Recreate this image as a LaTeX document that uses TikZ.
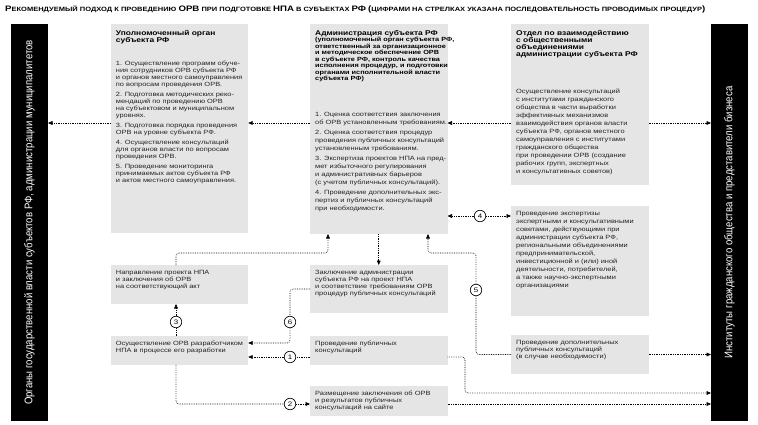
\documentclass[tikz,border=0pt]{standalone}
\usepackage{graphicx}
\usepackage{fontspec}
\setmainfont[FakeStretch=1.22]{Liberation Sans}
\newfontfamily\barfont{Liberation Sans}
\usetikzlibrary{arrows.meta,calc}
\definecolor{boxgray}{HTML}{E5E5E5}
\definecolor{bodytxt}{HTML}{222222}
\newcommand\BL[1]{{\fontsize{7.9}{9}\selectfont #1}}
\begin{document}
\begin{tikzpicture}[x=1pt,y=-1pt,
  box/.style={fill=boxgray,draw=none,anchor=north west,inner sep=0pt,outer sep=0pt,minimum width=137.5pt},
  barbox/.style={fill=black,draw=none,anchor=north west,inner sep=0pt,outer sep=0pt,minimum width=37pt,minimum height=397pt},
  bartext/.style={rotate=90,text=white,inner sep=0pt,font=\barfont\fontsize{9.6}{10}\selectfont},
  ttl/.style={anchor=north west,inner sep=0pt,align=left,font=\fontsize{6.9}{7}\selectfont\bfseries,text=black},
  sub/.style={anchor=north west,inner sep=0pt,align=left,font=\fontsize{6}{6.5}\selectfont\bfseries,text=black},
  bdy/.style={anchor=north west,inner sep=0pt,align=left,font=\fontsize{6.1}{7}\selectfont,text=bodytxt},
  bdyw/.style={bdy,font=\fontsize{6.1}{8}\selectfont},
  conn/.style={draw=black,line width=0.65pt,dash pattern=on 0.65pt off 1.1pt,rounded corners=3pt},
  arr/.style={conn,-{Triangle[length=4.5pt,width=3.8pt]}},
  num/.style={circle,draw=black,line width=0.65pt,fill=white,minimum size=11.5pt,inner sep=0pt,font=\fontsize{6.5}{7}\selectfont}
]
\fill[white] (0,0) rectangle (758,425);
\useasboundingbox (0,0) rectangle (758,425);

% title
\node[anchor=west,inner sep=0pt,font=\fontsize{6.15}{8}\selectfont\bfseries] (title) at (5,9)
 {\BL{Р}ЕКОМЕНДУЕМЫЙ ПОДХОД К ПРОВЕДЕНИЮ \BL{ОРВ} ПРИ ПОДГОТОВКЕ \BL{НПА} В СУБЪЕКТАХ \BL{РФ} \BL{(}ЦИФРАМИ НА СТРЕЛКАХ УКАЗАНА ПОСЛЕДОВАТЕЛЬНОСТЬ ПРОВОДИМЫХ ПРОЦЕДУР\BL{)}};

% side bars
\node[barbox] (lbar) at (11,24) {};
\node[barbox] (rbar) at (711,24) {};
\node[bartext] (lbar-t) at (lbar.center) {\scalebox{1}[1.15]{Органы государственной власти субъектов РФ, администрации муниципалитетов}};
\node[bartext] (rbar-t) at (rbar.center) {\scalebox{1}[1.15]{Институты гражданского общества и представители бизнеса}};

% boxes
\node[box,minimum height=209pt] (uo) at (110.7,24) {};
\node[box,minimum height=210pt] (adm) at (310,24) {};
\node[box,minimum height=161pt] (otd) at (511,24) {};
\node[box,minimum height=110pt] (exp) at (511,206) {};
\node[box,minimum height=39pt] (dop) at (511,335) {};
\node[box,minimum height=39pt] (napr) at (110.7,265) {};
\node[box,minimum height=29pt] (osush) at (110.7,336) {};
\node[box,minimum height=48pt] (zakl) at (310,265) {};
\node[box,minimum height=29pt] (provpub) at (310,336) {};
\node[box,minimum height=30pt] (razm) at (310,386) {};

% texts
\node[ttl] (uo-ttl) at ($(uo.north west)+(5,6)$) {Уполномоченный орган\\субъекта РФ};
\node[bdy] (uo-bdy) at ($(uo.north west)+(5,37)$) {1. Осуществление программ обуче-\\ния сотрудников ОРВ субъекта РФ\\и органов местного самоуправления\\по вопросам проведения ОРВ.\\[3pt]
2. Подготовка методических реко-\\мендаций по проведению ОРВ\\на субъектовом и муниципальном\\уровнях.\\[3pt]
3. Подготовка порядка проведения\\ОРВ на уровне субъекта РФ.\\[3pt]
4. Осуществление консультаций\\для органов власти по вопросам\\проведения ОРВ.\\[3pt]
5. Проведение мониторинга\\принимаемых актов субъекта РФ\\и актов местного самоуправления.};

\node[ttl] (adm-ttl) at ($(adm.north west)+(5,6)$) {Администрация субъекта РФ};
\node[sub] (adm-sub) at ($(adm.north west)+(5,13.3)$) {(уполномоченный орган субъекта РФ,\\ответственный за организационное\\и методическое обеспечение ОРВ\\в субъекте РФ, контроль качества\\исполнения процедур, и подготовки\\органами исполнительной власти\\субъекта РФ)};
\node[bdyw] (adm-bdy) at ($(adm.north west)+(5,88)$) {1. Оценка соответствия заключения\\об ОРВ установленным требованиям.\\[2pt]
2. Оценка соответствия процедур\\проведения публичных консультаций\\установленным требованиям.\\[2pt]
3. Экспертиза проектов НПА на пред-\\мет избыточного регулирования\\и административных барьеров\\(с учетом публичных консультаций).\\[2pt]
4. Проведение дополнительных экс-\\пертиз и публичных консультаций\\при необходимости.};

\node[ttl] (otd-ttl) at ($(otd.north west)+(5,6)$) {Отдел по взаимодействию\\с общественными\\объединениями\\администрации субъекта РФ};
\node[bdyw] (otd-bdy) at ($(otd.north west)+(5,65)$) {Осуществление консультаций\\с институтами гражданского\\общества в части выработки\\эффективных механизмов\\взаимодействия органов власти\\субъекта РФ, органов местного\\самоуправления с институтами\\гражданского общества\\при проведении ОРВ (создание\\рабочих групп, экспертных\\и консультативных советов)};

\node[bdyw] (exp-t) at ($(exp.north west)+(5,5)$) {Проведение экспертизы\\экспертными и консультативными\\советами, действующими при\\администрации субъекта РФ,\\региональными объединениями\\предпринимательской,\\инвестиционной и (или) иной\\деятельности, потребителей,\\а также научно-экспертными\\организациями};
\node[bdy] (dop-t) at ($(dop.north west)+(5,5)$) {Проведение дополнительных\\публичных консультаций\\(в случае необходимости)};
\node[bdy] (napr-t) at ($(napr.north west)+(5,5)$) {Направление проекта НПА\\и заключения об ОРВ\\на соответствующий акт};
\node[bdy] (osush-t) at ($(osush.north west)+(5,5)$) {Осуществление ОРВ разработчиком\\НПА в процессе его разработки};
\node[bdy] (zakl-t) at ($(zakl.north west)+(5,5)$) {Заключение администрации\\субъекта РФ на проект НПА\\и соответствие требованиям ОРВ\\процедур публичных консультаций};
\node[bdy] (provpub-t) at ($(provpub.north west)+(5,5)$) {Проведение публичных\\консультаций};
\node[bdy] (razm-t) at ($(razm.north west)+(5,5)$) {Размещение заключения об ОРВ\\и результатов публичных\\консультаций на сайте};

% numbered circles
\node[num] (c3) at (176,322) {3};
\node[num] (c6) at (290,322) {6};
\node[num] (c1) at (290,357) {1};
\node[num] (c2) at (290,404) {2};
\node[num] (c5) at (476,290) {5};
\node[num] (c4) at (480,216) {4};

% connectors
\coordinate (ytop) at (0,123);
\draw[arr] (uo.west |- ytop) -- (lbar.east |- ytop);
\draw[arr] (adm.west |- ytop) -- (uo.east |- ytop);
\draw[arr] (otd.west |- ytop) -- (adm.east |- ytop);
\draw[arr] (otd.east |- ytop) -- (rbar.west |- ytop);

\draw[arr] (c4.west) -- (adm.east |- c4);
\draw[arr] (c4.east) -- (exp.west |- c4);

\coordinate (j3) at (328,253);
\draw[arr] (napr.north -| c3) |- (j3) -- (adm.south -| j3);
\draw[arr] (adm.south) -- (zakl.north);
\coordinate (j5) at (428,253);
\draw[arr] (c5.north) |- (j5) -- (adm.south -| j5);
\draw[conn] (dop.west) -| (c5.south);
\draw[arr] (dop.east) -- (rbar.west |- dop.east);

\draw[conn] (zakl.west) -| (c6.north);
\coordinate (y6) at (0,343);
\draw[arr] (c6.south) |- (osush.east |- y6);

\draw[conn] (provpub.west |- c1) -- (c1.east);
\draw[arr] (c1.west) -- (osush.east |- c1);

\draw[conn] (osush.north -| c3) -- (c3.south);
\draw[arr] (c3.north) -- (napr.south -| c3);

\draw[conn] (osush.south -| c3) |- (c2.west);
\draw[arr] (c2.east) -- (razm.west |- c2);

\coordinate (j1) at (465,393);
\draw[arr] (provpub.east |- c1) -| (j1) -- (rbar.west |- j1);
\draw[arr] (razm.east |- c2) -- (rbar.west |- c2);
\end{tikzpicture}
\end{document}
